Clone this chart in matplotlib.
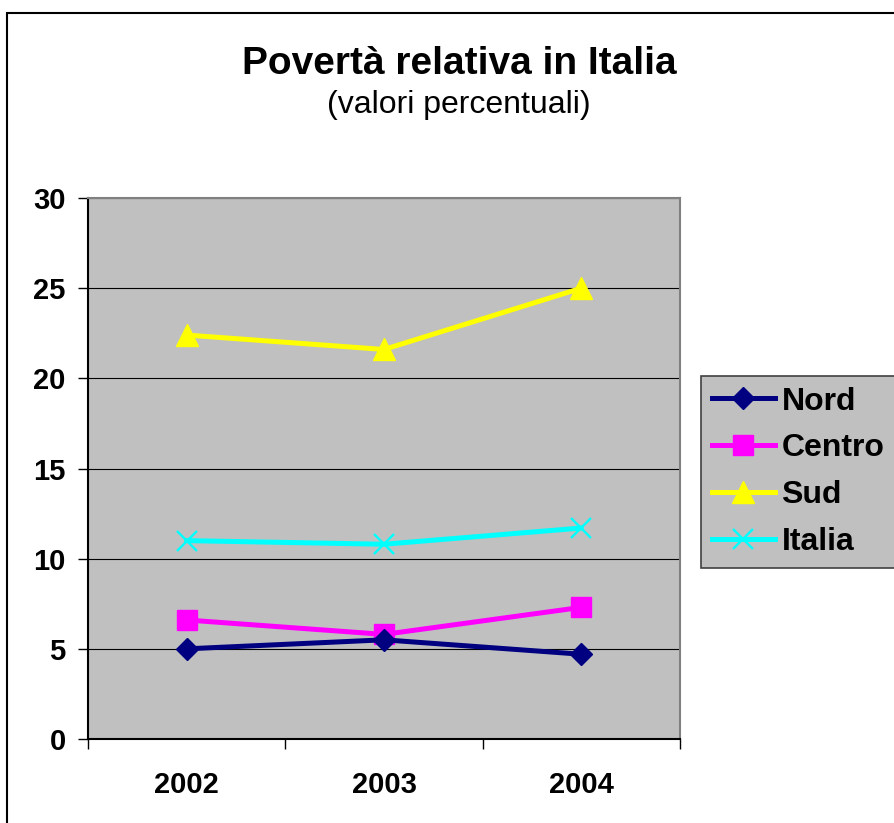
import matplotlib
matplotlib.use("Agg")
import matplotlib.pyplot as plt
from matplotlib.patches import Rectangle
from matplotlib.ticker import FixedLocator, NullFormatter

plt.rcParams['font.family'] = ['Liberation Sans', 'DejaVu Sans']

years = ['2002', '2003', '2004']
nord = [5.0, 5.5, 4.7]
centro = [6.6, 5.8, 7.3]
sud = [22.4, 21.6, 25.0]
italia = [11.0, 10.8, 11.7]
yticks = [0, 5, 10, 15, 20, 25, 30]

W, H = 895, 823
fig = plt.figure(figsize=(W / 100, H / 100), dpi=100)
fig.patch.set_facecolor('white')

# outer chart border
fig.patches.append(Rectangle((7 / W, -0.05), 1.2, 1 - 13 / H + 0.05,
                             transform=fig.transFigure, fill=False,
                             ec='black', lw=1.5, zorder=0))

ax = fig.add_axes([88 / W, (H - 739) / H, (680 - 88) / W, (739 - 198) / H])
ax.set_facecolor('#C0C0C0')

x = list(range(len(years)))
ax.plot(x, nord, color='#000080', lw=3.6, marker='D', markersize=11.5,
        label='Nord', zorder=5)
ax.plot(x, centro, color='#FF00FF', lw=3.6, marker='s', markersize=14.5,
        label='Centro', zorder=4)
ax.plot(x, sud, color='#FFFF00', lw=3.6, marker='^', markersize=16,
        label='Sud', zorder=4)
ax.plot(x, italia, color='#00FFFF', lw=3.6, marker='x', markersize=14.5,
        markeredgewidth=1.7, label='Italia', zorder=4)

ax.set_xlim(-0.5, len(years) - 0.5)
ax.set_ylim(0, 30)
ax.set_yticks(yticks)
ax.set_yticklabels([str(v) for v in yticks], fontsize=21, fontweight='bold')

ax.xaxis.set_major_locator(FixedLocator([-0.5, 0.5, 1.5, 2.5]))
ax.xaxis.set_major_formatter(NullFormatter())
ax.xaxis.set_minor_locator(FixedLocator(x))
ax.set_xticklabels(years, minor=True, fontsize=21, fontweight='bold')
ax.tick_params(axis='x', which='major', direction='out', length=7, width=1, color='black')
ax.tick_params(axis='x', which='minor', length=0, pad=23)
ax.tick_params(axis='y', direction='out', length=7, width=1, pad=9, color='black')

ax.yaxis.grid(True, color='black', lw=0.8)
ax.set_axisbelow(True)
ax.spines['left'].set_color('black')
ax.spines['bottom'].set_color('black')
ax.spines['top'].set_color('#808080')
ax.spines['right'].set_color('#808080')
for s in ax.spines.values():
    s.set_linewidth(1.5)

leg = fig.legend(loc='upper left', bbox_to_anchor=(701 / W, 1 - 376 / H),
                 frameon=True, fancybox=False, facecolor='#C0C0C0',
                 edgecolor='#404040', framealpha=1, borderaxespad=0,
                 handlelength=2.0, handletextpad=0.19, labelspacing=0.53,
                 borderpad=0.33, prop={'size': 23, 'weight': 'bold'})
leg.get_frame().set_linewidth(1.2)

fig.text(459 / W, 1 - 74 / H, 'Povertà relativa in Italia', ha='center',
         va='baseline', fontsize=28, fontweight='bold')
fig.text(459 / W, 1 - 113 / H, '(valori percentuali)', ha='center',
         va='baseline', fontsize=23)

fig.savefig('out.png', dpi=100)
